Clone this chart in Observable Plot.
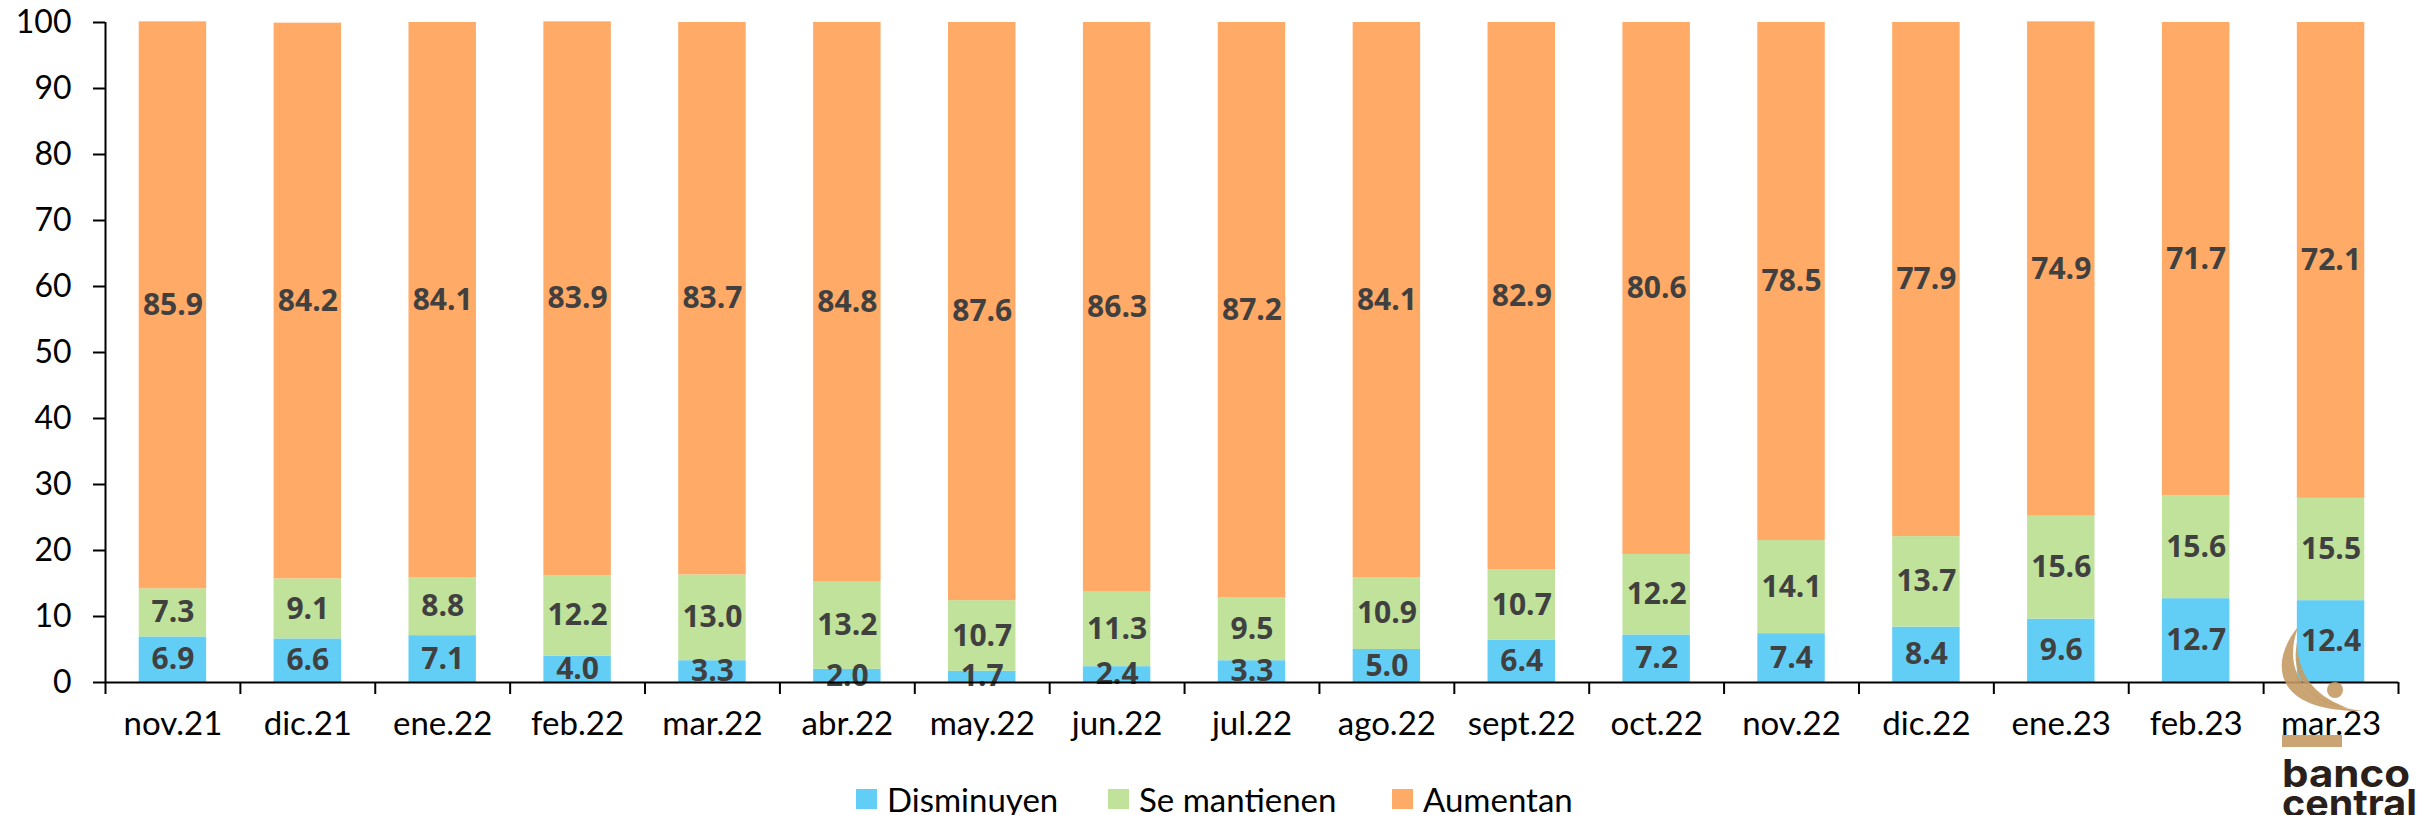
<!DOCTYPE html>
<html><head><meta charset="utf-8">
<script src="https://cdn.jsdelivr.net/npm/d3@7"></script>
<script src="https://cdn.jsdelivr.net/npm/@observablehq/plot@0.6"></script>
<style>
body{margin:0;background:#fff;width:2420px;height:815px;overflow:hidden;position:relative;font-family:Lato,sans-serif}
#chart{position:absolute;left:0;top:0}
.leg{position:absolute;top:789px;height:20px;display:flex;align-items:center}
.sw{width:21px;height:20px;display:inline-block;flex:none}
.lt{font-size:33px;color:#000;display:inline-block;margin-left:10px;white-space:nowrap;line-height:20px}
#logo{position:absolute;left:2270px;top:620px}
</style></head><body>
<div id="chart"></div>
<div id="legend"></div>
<svg id="logo" width="150" height="195" viewBox="0 0 150 195">
  <path d="M28 7 C 0 40, 0 92, 93 91 C 35 84, 12 52, 28 7 Z" fill="#c49b64" opacity="0.9"/>
  <path d="M27 22 C 20 58, 40 84, 78 88 C 50 78, 28 60, 27 22 Z" fill="#c49b64" opacity="0.9"/>
  <circle cx="65" cy="70" r="8" fill="#c49b64" opacity="0.9"/>
  <rect x="12" y="115" width="60" height="12" fill="#c49b64" opacity="0.9"/>
  <text x="12" y="167" font-family="Inter" font-weight="700" font-size="38" fill="#2a1f1a" textLength="128" lengthAdjust="spacingAndGlyphs">banco</text>
  <text x="12" y="197" font-family="Inter" font-weight="700" font-size="38" fill="#2a1f1a" textLength="135" lengthAdjust="spacingAndGlyphs">central</text>
</svg>
<script>
const months = ["nov.21","dic.21","ene.22","feb.22","mar.22","abr.22","may.22","jun.22","jul.22","ago.22","sept.22","oct.22","nov.22","dic.22","ene.23","feb.23","mar.23"];
const disminuyen = [6.9,6.6,7.1,4.0,3.3,2.0,1.7,2.4,3.3,5.0,6.4,7.2,7.4,8.4,9.6,12.7,12.4];
const mantienen = [7.3,9.1,8.8,12.2,13.0,13.2,10.7,11.3,9.5,10.9,10.7,12.2,14.1,13.7,15.6,15.6,15.5];
const aumentan = [85.9,84.2,84.1,83.9,83.7,84.8,87.6,86.3,87.2,84.1,82.9,80.6,78.5,77.9,74.9,71.7,72.1];
const seriesNames = ["Disminuyen","Se mantienen","Aumentan"];
const seriesColors = ["#63cef5","#c0e29a","#ffaa66"];
const yTicks = [0,10,20,30,40,50,60,70,80,90,100];

const seriesData = [disminuyen, mantienen, aumentan];
const rows = [];
months.forEach((m, i) => {
  seriesData.forEach((arr, k) => rows.push({month: m, serie: seriesNames[k], value: arr[i]}));
});

const W = 2420, H = 765, mL = 105, mR = 22, mT = 22, mB = 83;
const step = (W - mL - mR) / months.length;
const pxPerUnit = (H - mT - mB) / 100;

const chart = Plot.plot({
  width: W, height: H,
  marginLeft: mL, marginRight: mR, marginTop: mT, marginBottom: mB,
  style: {fontFamily: "Lato, sans-serif", background: "#fff", overflow: "visible", color: "#000"},
  x: {domain: months, paddingInner: 0.5, paddingOuter: 0.25, round: false, label: null},
  y: {domain: [0, 100], ticks: yTicks, label: null},
  color: {domain: seriesNames, range: seriesColors},
  marks: [
    Plot.barY(rows, Plot.stackY({x: "month", y: "value", fill: "serie"})),
    Plot.text(rows, Plot.stackY({x: "month", y: "value", z: "serie", text: d => d.value.toFixed(1), fill: "#404040", fontWeight: 700, fontFamily: "'Open Sans', sans-serif", fontSize: 30})),
    Plot.axisY({ticks: yTicks, tickSize: 12, tickPadding: 22, fontSize: 32, strokeWidth: 2, label: null}),
    Plot.axisX({tickSize: 0, tickPadding: 29, fontSize: 33, label: null}),
    Plot.ruleY([0], {strokeWidth: 2}),
    Plot.ruleX(months, {x: d => d, dx: -step / 2, y1: 0, y2: -12 / pxPerUnit, strokeWidth: 2}),
    Plot.ruleX(months.slice(-1), {x: d => d, dx: step / 2, y1: 0, y2: -12 / pxPerUnit, strokeWidth: 2}),
    Plot.ruleX(months.slice(0, 1), {x: d => d, dx: -step / 2, y1: 0, y2: 100, strokeWidth: 2})
  ]
});
document.getElementById("chart").appendChild(chart);

const legendX = [856, 1108, 1392];
const legend = document.getElementById("legend");
seriesNames.forEach((name, k) => {
  const item = document.createElement("div");
  item.className = "leg";
  item.style.left = legendX[k] + "px";
  item.innerHTML = `<span class="sw" style="background:${seriesColors[k]}"></span><span class="lt">${name}</span>`;
  legend.appendChild(item);
});
</script>
</body></html>
